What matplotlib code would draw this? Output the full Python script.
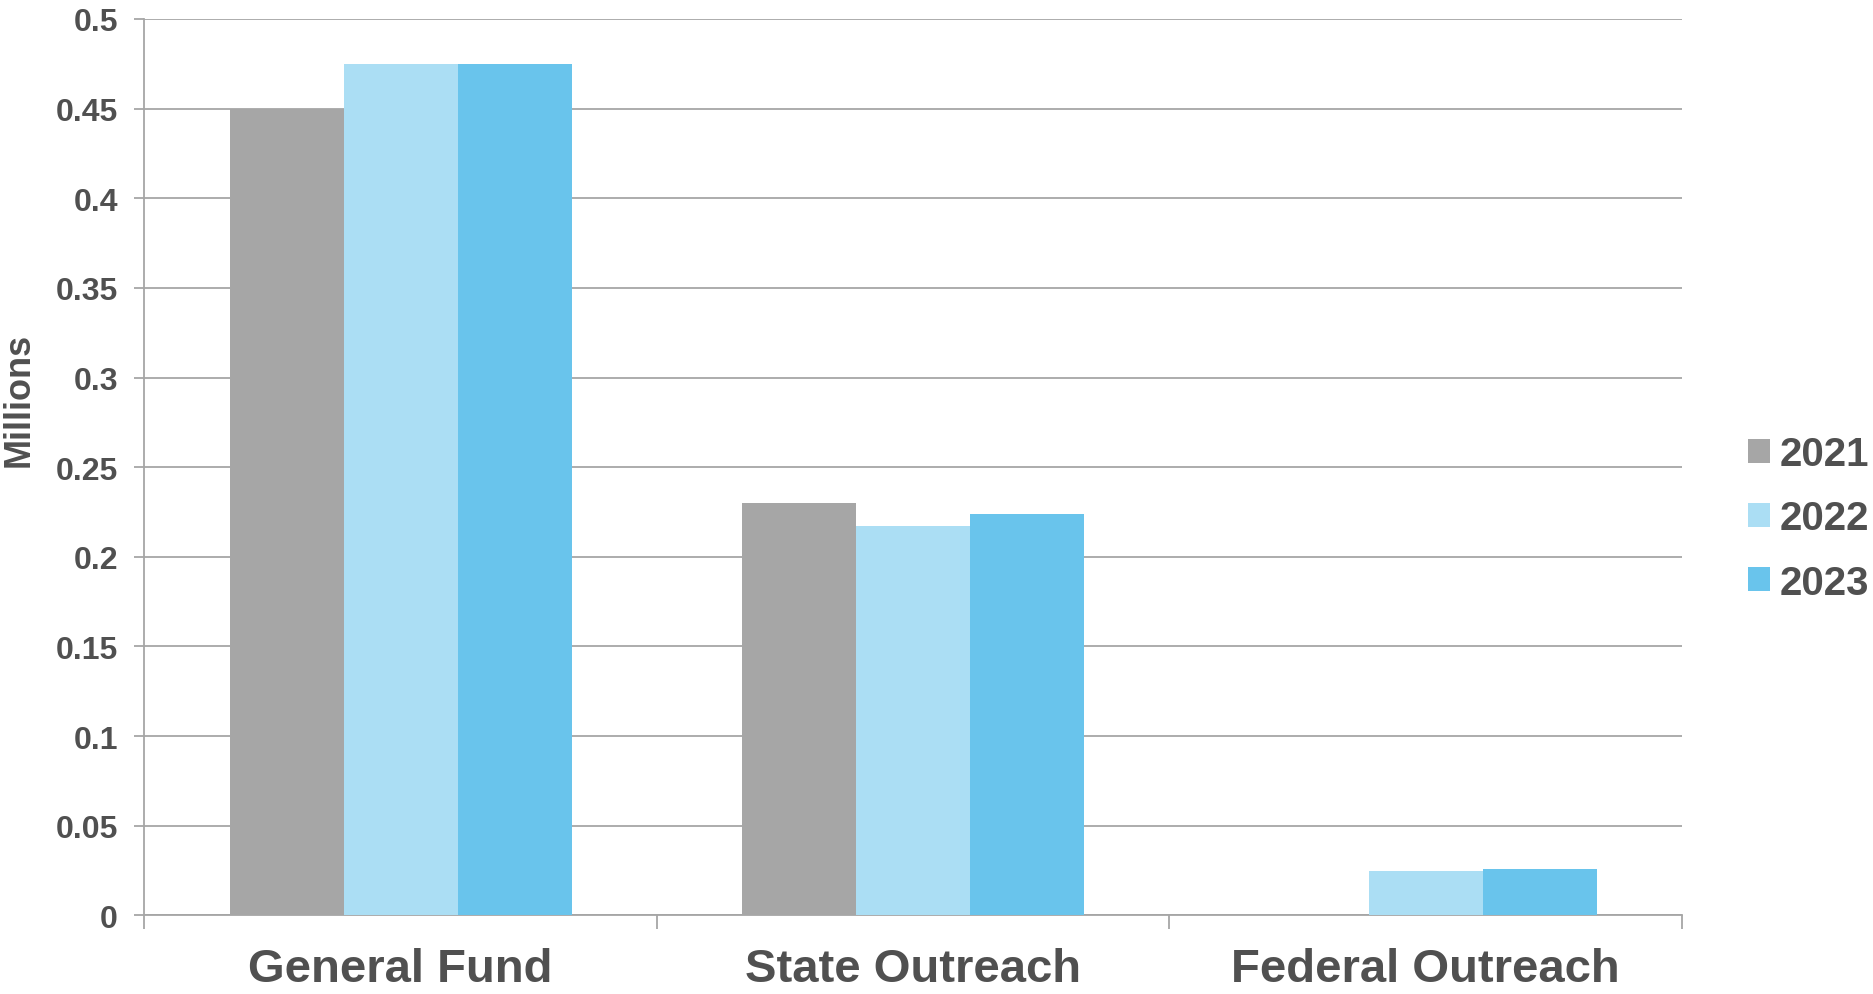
import numpy as np
import matplotlib
matplotlib.use("Agg")
import matplotlib.pyplot as plt

categories = ["General Fund", "State Outreach", "Federal Outreach"]
years = ["2021", "2022", "2023"]
values_2021 = [0.450, 0.230, 0.0]
values_2022 = [0.475, 0.217, 0.0247]
values_2023 = [0.475, 0.224, 0.026]
colors = ["#A6A6A6", "#ABDEF4", "#69C4EC"]
yticks = [0, 0.05, 0.1, 0.15, 0.2, 0.25, 0.3, 0.35, 0.4, 0.45, 0.5]
ytick_labels = ["0", "0.05", "0.1", "0.15", "0.2", "0.25", "0.3", "0.35", "0.4", "0.45", "0.5"]

text_color = "#505050"
grid_color = "#A6A6A6"
plt.rcParams["font.family"] = ["Liberation Sans", "DejaVu Sans"]
plt.rcParams["font.weight"] = "bold"

fig = plt.figure(figsize=(18.74, 9.95), dpi=100)
ax = fig.add_axes([0.0770, 0.0791, 0.8205, 0.9008])

x = np.arange(len(categories))
width = 0.2224
series = [values_2021, values_2022, values_2023]
for i, (yr, vals, c) in enumerate(zip(years, series, colors)):
    ax.bar(x + (i - 1) * width, vals, width, color=c, label=yr, zorder=3)

ax.set_xlim(-0.5, len(categories) - 0.5)
ax.set_ylim(0, 0.5)
ax.set_yticks(yticks)
ax.set_yticklabels(ytick_labels)
ax.yaxis.grid(True, color=grid_color, linewidth=1.3, zorder=0)
ax.set_axisbelow(True)

# category labels centred, tick marks on the boundaries
ax.set_xticks(np.arange(-0.5, len(categories)), minor=False)
ax.set_xticklabels([])
ax.set_xticks(x, minor=True)
ax.set_xticklabels(categories, minor=True)
ax.tick_params(axis="x", which="major", length=10, width=1.3, color=grid_color, direction="out")
ax.tick_params(axis="x", which="minor", length=0, pad=23, labelsize=34, labelcolor=text_color)
ax.tick_params(axis="y", length=7, width=1.3, color=grid_color, pad=12, labelsize=23, labelcolor=text_color)

ax.spines["top"].set_visible(False)
ax.spines["right"].set_visible(False)
for side in ["left", "bottom"]:
    ax.spines[side].set_color(grid_color)
    ax.spines[side].set_linewidth(1.3)

fig.text(0.0101, 0.598, "Millions", rotation=90, ha="center", va="center",
         fontsize=26, fontweight="bold", color=text_color)

leg = fig.legend(loc="center left", bbox_to_anchor=(0.9328, 0.478), frameon=False,
                 fontsize=29, handlelength=0.54, handleheight=0.54, handletextpad=0.25,
                 labelspacing=0.65, borderpad=0, borderaxespad=0)
for t in leg.get_texts():
    t.set_color(text_color)

fig.savefig("out.png", dpi=100)
